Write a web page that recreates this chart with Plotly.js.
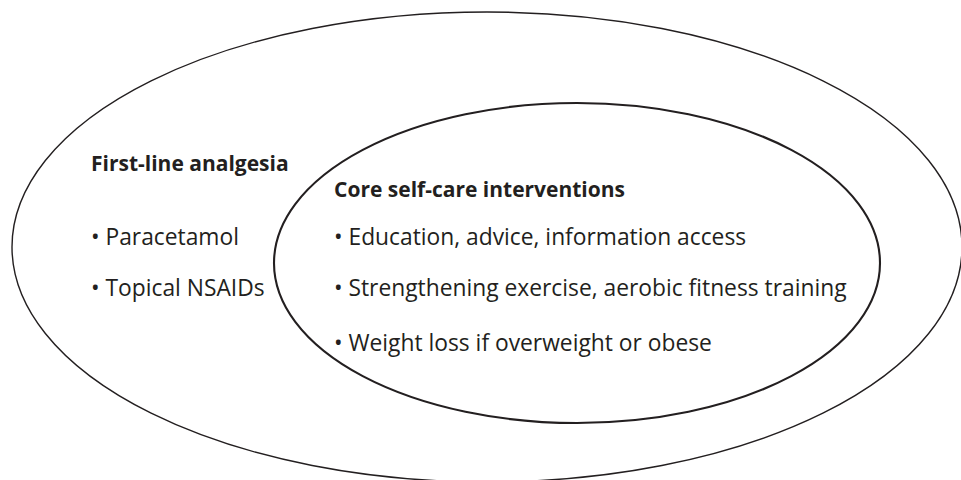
<!DOCTYPE html>
<html>
<head>
<meta charset="utf-8">
<script src="https://cdn.plot.ly/plotly-3.0.1.min.js"></script>
<style>html,body{margin:0;padding:0;background:#fff;}#chart{width:961px;height:480px;}</style>
</head>
<body>
<div id="chart"></div>
<script>
// ---- content ----
const groupTitles = ["First-line analgesia", "Core self-care interventions"];
const firstLineItems = ["Paracetamol", "Topical NSAIDs"];
const coreItems = [
  "Education, advice, information access",
  "Strengthening exercise, aerobic fitness training",
  "Weight loss if overweight or obese"
];
// ellipse geometry in page-pixel data units: [centerX, centerY, radiusX, radiusY]
const outerEllipse = [487, 247, 475, 235];
const innerEllipse = [577, 263, 303, 160];

// ---- layout helpers (positions/styles) ----
const ink = "#231f20";
const fontFamily = "'Open Sans', 'Noto Sans', sans-serif";
const titleSize = 21;
const itemSize = 22.8;
const colLeftX = 89, colRightX = 332;
const leftTitleY = 163, rightTitleY = 189;
const itemRowsY = [236, 287, 342];

function ellipseShape(e, width) {
  return {
    type: "circle", xref: "x", yref: "y",
    x0: e[0] - e[2], x1: e[0] + e[2], y0: e[1] - e[3], y1: e[1] + e[3],
    line: {color: ink, width: width}, fillcolor: "rgba(0,0,0,0)"
  };
}
function label(text, x, y, bold) {
  return {
    x: x, y: y, xref: "x", yref: "y", text: bold ? "<b>" + text + "</b>" : text,
    showarrow: false, xanchor: "left", yanchor: "middle",
    font: {family: fontFamily, size: bold ? titleSize : itemSize, color: ink}
  };
}

const annotations = [];
annotations.push(label(groupTitles[0], colLeftX, leftTitleY, true));
annotations.push(label(groupTitles[1], colRightX, rightTitleY, true));
firstLineItems.forEach((t, i) => annotations.push(label("• " + t, colLeftX, itemRowsY[i], false)));
coreItems.forEach((t, i) => annotations.push(label("• " + t, colRightX, itemRowsY[i], false)));

const layout = {
  width: 961, height: 480,
  margin: {l: 0, r: 0, t: 0, b: 0},
  paper_bgcolor: "#ffffff", plot_bgcolor: "#ffffff",
  showlegend: false,
  xaxis: {range: [0, 961], visible: false, fixedrange: true},
  yaxis: {range: [480, 0], visible: false, fixedrange: true},
  shapes: [ellipseShape(outerEllipse, 1.4), ellipseShape(innerEllipse, 2.1)],
  annotations: annotations
};

Plotly.newPlot("chart", [{x: [], y: [], type: "scatter", mode: "markers", hoverinfo: "skip"}], layout,
  {staticPlot: true, displayModeBar: false});
</script>
</body>
</html>
